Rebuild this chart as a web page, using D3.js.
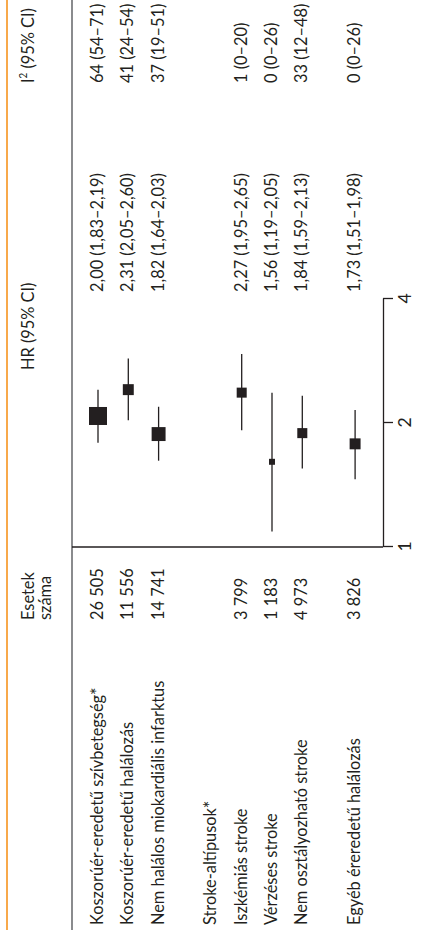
<!DOCTYPE html>
<html>
<head>
<meta charset="utf-8">
<script src="https://cdn.jsdelivr.net/npm/d3@7"></script>
<style>
  html, body { margin: 0; padding: 0; background: #fff; }
  svg { display: block; }
  text { font-family: Lato, "Open Sans", sans-serif; font-size: 17.5px; fill: #231f20; }
</style>
</head>
<body>
<svg id="chart"></svg>
<script>
// rows of the table (top to bottom before rotation)
const outcomes = ['Koszorúér-eredetű szívbetegség', 'Koszorúér-eredetű halálozás', 'Nem halálos miokardiális infarktus',
  'Stroke-altípusok', 'Iszkémiás stroke', 'Vérzéses stroke', 'Nem osztályozható stroke', 'Egyéb éreredetű halálozás']
const starred = [true, false, false, true, false, false, false, false]
const groups = [0, 0, 0, 1, 1, 1, 1, 2]
const cases = [26505, 11556, 14741, null, 3799, 1183, 4973, 3826]

// printed HR (95% CI)
const hr = [2.00, 2.31, 1.82, null, 2.27, 1.56, 1.84, 1.73]
const hrLow = [1.83, 2.05, 1.64, null, 1.95, 1.19, 1.59, 1.51]
const hrHigh = [2.19, 2.60, 2.03, null, 2.65, 2.05, 2.13, 1.98]

// plotted marks
const plotHR = [2.08, 2.41, 1.88, null, 2.37, 1.61, 1.89, 1.78]
const plotLow = [1.79, 2.03, 1.62, null, 1.92, 1.09, 1.55, 1.46]
const plotHigh = [2.41, 2.87, 2.19, null, 2.94, 2.37, 2.33, 2.15]
const weights = [100, 37, 60, null, 31, 11, 31, 37]

// I2 (95% CI)
const i2 = [64, 41, 37, null, 1, 0, 33, 0]
const i2Low = [54, 24, 19, null, 0, 0, 12, 0]
const i2High = [71, 54, 51, null, 20, 26, 48, 26]

const axisTicks = [1, 2, 4]

const W = 932, H = 431
const svg = d3.select('#chart').attr('width', H).attr('height', W)
// the whole figure is laid out landscape and turned a quarter
const g = svg.append('g').attr('transform', `translate(0,${W}) rotate(-90)`)

const hu = d3.formatLocale({ decimal: ',', thousands: ' ', grouping: [3], currency: ['', ''] })
const fmtN = hu.format(',d')
const fmt2 = hu.format('.2f')

const rowY = i => 98 + i * 30.3 + groups[i] * 22.5
const x = d3.scaleLog().domain([1, 4]).range([385, 633])
const size = d3.scaleSqrt().domain([0, 100]).range([0, 18])

const ink = '#231f20'
const squeeze = 0.935 // the original face is a bit narrower than Lato
const at = (sx, sy) => `translate(${sx},${sy}) scale(${squeeze},1)`

// rules
g.append('line').attr('x1', 2).attr('x2', W).attr('y1', 7).attr('y2', 7)
  .attr('stroke', '#f7941e').attr('stroke-width', 1.6)
g.append('line').attr('x1', 2).attr('x2', W).attr('y1', 72).attr('y2', 72)
  .attr('stroke', '#6d6e71').attr('stroke-width', 1.6)

// headers
g.append('text').attr('transform', at(312, 34)).text('Esetek')
g.append('text').attr('transform', at(312, 51)).text('száma')
g.append('text').attr('transform', at(562, 34)).text('HR (95% CI)')
const i2h = g.append('text').attr('transform', at(849, 34))
i2h.append('tspan').text('I')
i2h.append('tspan').attr('font-size', 10.5).attr('dy', -7).text('2')
i2h.append('tspan').attr('dy', 7).text(' (95% CI)')

// row labels
const idx = d3.range(outcomes.length)
const lab = g.selectAll('.lab').data(idx).join('text')
  .attr('class', 'lab')
  .attr('transform', i => at(7, rowY(i) + 5))
  .text(i => outcomes[i])
lab.filter(i => starred[i]).append('tspan')
  .attr('font-size', 19).attr('dy', 1).text('*')

const rows = idx.filter(i => cases[i] != null)

g.selectAll('.cases').data(rows).join('text')
  .attr('transform', i => at(312, rowY(i) + 5))
  .text(i => fmtN(cases[i]))

g.selectAll('.hrt').data(rows).join('text')
  .attr('transform', i => at(640, rowY(i) + 5))
  .text(i => `${fmt2(hr[i])} (${fmt2(hrLow[i])}–${fmt2(hrHigh[i])})`)

g.selectAll('.i2t').data(rows).join('text')
  .attr('transform', i => at(849, rowY(i) + 5))
  .text(i => `${i2[i]} (${i2Low[i]}–${i2High[i]})`)

// reference line at HR = 1
g.append('line').attr('x1', x(1)).attr('x2', x(1)).attr('y1', 72).attr('y2', 383)
  .attr('stroke', ink).attr('stroke-width', 1.3)

// axis
const ax = g.append('g').attr('transform', 'translate(0,383)')
  .call(d3.axisBottom(x).tickValues(axisTicks).tickFormat(d3.format('d')).tickSize(10).tickSizeOuter(0).tickPadding(6))
ax.select('.domain').attr('stroke', ink).attr('stroke-width', 1.3)
ax.selectAll('.tick line').attr('stroke', ink).attr('stroke-width', 1.3)
ax.selectAll('.tick text').attr('font-family', 'Lato, "Open Sans", sans-serif').attr('font-size', 17.5).attr('fill', ink)

// confidence intervals and squares
g.selectAll('.ci').data(rows).join('line')
  .attr('x1', i => x(plotLow[i])).attr('x2', i => x(plotHigh[i]))
  .attr('y1', i => rowY(i)).attr('y2', i => rowY(i))
  .attr('stroke', ink).attr('stroke-width', 1.3)

g.selectAll('.sq').data(rows).join('rect')
  .attr('x', i => x(plotHR[i]) - size(weights[i]) / 2)
  .attr('y', i => rowY(i) - size(weights[i]) / 2)
  .attr('width', i => size(weights[i]))
  .attr('height', i => size(weights[i]))
  .attr('fill', ink)
</script>
</body>
</html>
